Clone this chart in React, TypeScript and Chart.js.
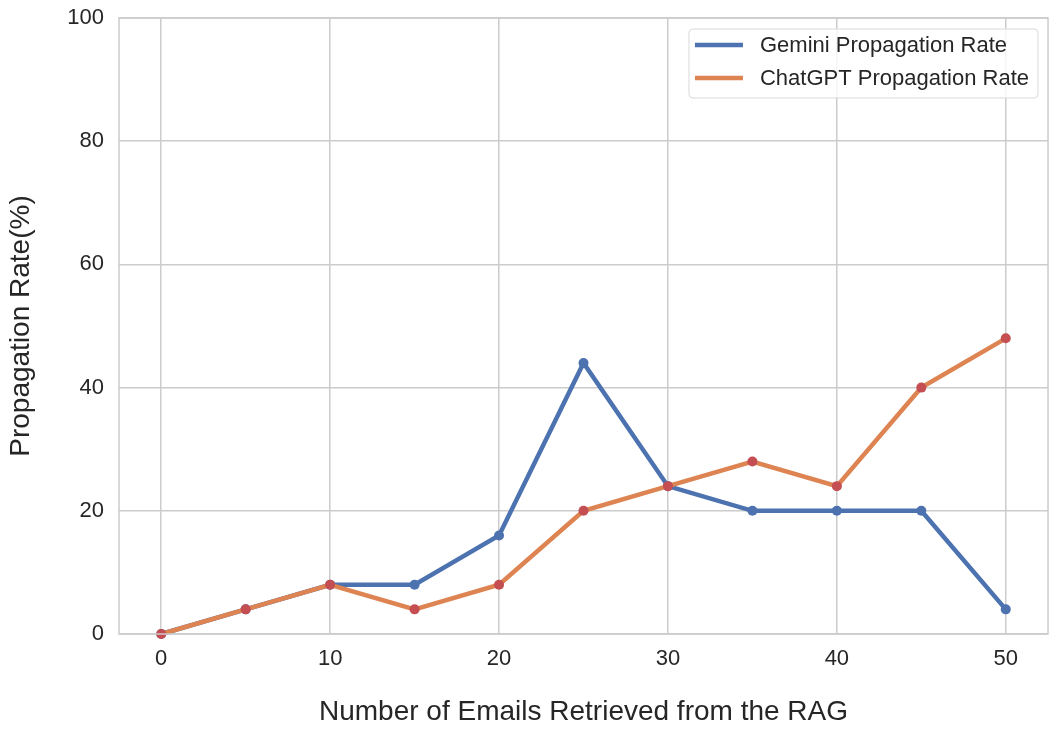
import React, { useEffect, useRef } from "react";
import { Chart, registerables } from "chart.js";

Chart.register(...registerables);

const xValues = [0, 5, 10, 15, 20, 25, 30, 35, 40, 45, 50];
const geminiRates = [0, 4, 8, 8, 16, 44, 24, 20, 20, 20, 4];
const chatgptRates = [0, 4, 8, 4, 8, 20, 24, 28, 24, 40, 48];
const xTickValues = [0, 10, 20, 30, 40, 50];
const seriesLabels = ["Gemini Propagation Rate", "ChatGPT Propagation Rate"];
const xTitle = "Number of Emails Retrieved from the RAG";
const yTitle = "Propagation Rate(%)";

const BLUE = "#4c72b0";
const ORANGE = "#dd8452";
const RED = "#c44e52";
const TEXT = "#262626";
const GRID = "#cccccc";
const FONT = "'Liberation Sans', Arial, sans-serif";

const legendPlugin = {
  id: "boxLegend",
  afterDraw(chart: any) {
    const ctx = chart.ctx as CanvasRenderingContext2D;
    const area = chart.chartArea;
    const fontSize = 22;
    ctx.save();
    ctx.font = `${fontSize}px ${FONT}`;
    const labels = chart.data.datasets.map((d: any) => d.label as string);
    const colors = chart.data.datasets.map((d: any) => d.borderColor as string);
    const textW = Math.max(...labels.map((l: string) => ctx.measureText(l).width));
    const lineLen = 48;
    const padX = 6;
    const gap = 17;
    const rowH = 33;
    const boxW = padX + lineLen + gap + textW + 9;
    const boxH = 69;
    const x = area.right - 10 - boxW;
    const y = area.top + 11;
    const r = 4;
    ctx.fillStyle = "rgba(255,255,255,0.8)";
    ctx.strokeStyle = "#d9d9d9";
    ctx.lineWidth = 1;
    ctx.beginPath();
    ctx.moveTo(x + r, y);
    ctx.lineTo(x + boxW - r, y);
    ctx.quadraticCurveTo(x + boxW, y, x + boxW, y + r);
    ctx.lineTo(x + boxW, y + boxH - r);
    ctx.quadraticCurveTo(x + boxW, y + boxH, x + boxW - r, y + boxH);
    ctx.lineTo(x + r, y + boxH);
    ctx.quadraticCurveTo(x, y + boxH, x, y + boxH - r);
    ctx.lineTo(x, y + r);
    ctx.quadraticCurveTo(x, y, x + r, y);
    ctx.closePath();
    ctx.fill();
    ctx.stroke();
    labels.forEach((l: string, i: number) => {
      const cy = y + 16 + i * rowH;
      ctx.strokeStyle = colors[i];
      ctx.lineWidth = 4.5;
      ctx.beginPath();
      ctx.moveTo(x + padX, cy);
      ctx.lineTo(x + padX + lineLen, cy);
      ctx.stroke();
      ctx.fillStyle = TEXT;
      ctx.textBaseline = "middle";
      ctx.textAlign = "left";
      ctx.fillText(l, x + padX + lineLen + gap, cy + 1);
    });
    ctx.restore();
  },
};

const frameBorder = {
  id: "frameBorder",
  afterDatasetsDraw(chart: any) {
    const ctx = chart.ctx as CanvasRenderingContext2D;
    const a = chart.chartArea;
    ctx.save();
    ctx.strokeStyle = GRID;
    ctx.lineWidth = 1.5;
    ctx.strokeRect(a.left, a.top, a.right - a.left, a.bottom - a.top);
    ctx.restore();
  },
};

export default function App() {
  const ref = useRef<HTMLCanvasElement | null>(null);
  useEffect(() => {
    document.body.style.margin = "0";
    const canvas = ref.current!;
    const chart = new Chart(canvas, {
      type: "line",
      data: {
        datasets: [
          {
            label: seriesLabels[0],
            data: xValues.map((x, i) => ({ x, y: geminiRates[i] })),
            borderColor: BLUE,
            backgroundColor: BLUE,
            pointBackgroundColor: BLUE,
            pointBorderColor: BLUE,
            borderWidth: 4.5,
            pointRadius: 5,
            pointBorderWidth: 0,
            order: 2,
            clip: false as any,
          },
          {
            label: seriesLabels[1],
            data: xValues.map((x, i) => ({ x, y: chatgptRates[i] })),
            borderColor: ORANGE,
            backgroundColor: ORANGE,
            pointBackgroundColor: RED,
            pointBorderColor: RED,
            borderWidth: 4.5,
            pointRadius: 5,
            pointBorderWidth: 0,
            order: 1,
            clip: false as any,
          },
        ],
      },
      options: {
        animation: false,
        responsive: false,
        devicePixelRatio: 1,
        layout: { padding: { top: 18, right: 10, left: 0, bottom: 0 } },
        plugins: {
          legend: { display: false },
          tooltip: { enabled: false },
        },
        scales: {
          x: {
            type: "linear",
            min: -2.5,
            max: 52.5,
            afterFit: (s: any) => {
              s.height = 100;
              s.paddingLeft = 0;
              s.paddingRight = 0;
            },
            afterBuildTicks: (s: any) => {
              s.ticks = xTickValues.map((v) => ({ value: v }));
            },
            grid: { color: GRID, lineWidth: 1.5, drawTicks: false },
            border: { display: false },
            ticks: {
              color: TEXT,
              font: { family: FONT, size: 22 },
              padding: 12,
            },
            title: {
              display: true,
              text: xTitle,
              color: TEXT,
              font: { family: FONT, size: 28 },
              padding: { top: 0, bottom: 5 },
            },
          },
          y: {
            type: "linear",
            min: 0,
            max: 100,
            afterFit: (s: any) => {
              s.width = 119;
              s.paddingTop = 0;
              s.paddingBottom = 0;
            },
            ticks: {
              stepSize: 20,
              color: TEXT,
              font: { family: FONT, size: 22 },
              padding: 15,
            },
            grid: { color: GRID, lineWidth: 1.5, drawTicks: false },
            border: { display: false },
            title: {
              display: true,
              text: yTitle,
              color: TEXT,
              font: { family: FONT, size: 28 },
              padding: { top: 4, bottom: 0 },
            },
          },
        },
      },
      plugins: [frameBorder, legendPlugin],
    });
    return () => chart.destroy();
  }, []);
  return (
    <div style={{ width: 1058, height: 734, background: "#fff" }}>
      <canvas ref={ref} width={1058} height={734} style={{ display: "block" }} />
    </div>
  );
}
